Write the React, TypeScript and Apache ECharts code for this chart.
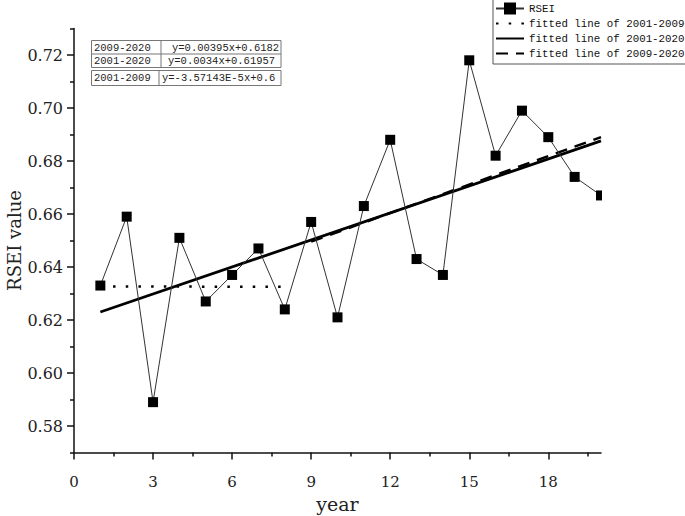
import React, { useEffect, useRef } from "react";
import * as echarts from "echarts";

const years = [1, 2, 3, 4, 5, 6, 7, 8, 9, 10, 11, 12, 13, 14, 15, 16, 17, 18, 19, 20];
const rseiValues = [0.633, 0.659, 0.589, 0.651, 0.627, 0.637, 0.647, 0.624, 0.657, 0.621, 0.663, 0.688, 0.643, 0.637, 0.718, 0.682, 0.699, 0.689, 0.674, 0.667];

const fit2001to2009 = [[1, 0.6327], [8, 0.6325]];
const fit2001to2020 = [[1, 0.623], [20, 0.6876]];
const fit2009to2020 = [[9, 0.6496], [20, 0.689]];

const xMajorTicks = [0, 3, 6, 9, 12, 15, 18];
const xMinorTicks = [1.5, 4.5, 7.5, 10.5, 13.5, 16.5, 19.5];
const yMajorTicks = [0.58, 0.6, 0.62, 0.64, 0.66, 0.68, 0.7, 0.72];
const yMinorTicks = [0.57, 0.59, 0.61, 0.63, 0.65, 0.67, 0.69, 0.71, 0.73];

const tableRows = [
  ["2009-2020", "y=0.00395x+0.6182"],
  ["2001-2020", "y=0.0034x+0.61957"],
  ["2001-2009", "y=-3.57143E-5x+0.6"],
];

const seriesNames = ["RSEI", "fitted line of 2001-2009", "fitted line of 2001-2020", "fitted line of 2009-2020"];

export default function App() {
  const ref = useRef<HTMLDivElement>(null);
  useEffect(() => {
    if (!ref.current) return;
    const chart = echarts.init(ref.current, null, { renderer: "svg" });
    const serif = "DejaVu Serif";
    const mono = "Liberation Mono";
    const axisColor = "#111";
    const tableFont = { fontFamily: mono, fontSize: 10.5, fill: "#222" };
    const rowY = [47.5, 61, 78];
    const rightX = [172, 168, 162];
    const hiddenSymbol = { opacity: 0 };
    const option: any = {
      animation: false,
      backgroundColor: "#fff",
      grid: { left: 74, right: 84, top: 28.5, bottom: 63.5, outerBoundsMode: "none", containLabel: false },
      legend: {
        orient: "vertical",
        left: 493,
        top: -2,
        padding: [3, 2, 3, 2],
        itemGap: 0,
        itemWidth: 28,
        itemHeight: 15,
        borderColor: "#555",
        borderWidth: 1,
        borderRadius: 0,
        data: [
          { name: seriesNames[0] },
          { name: seriesNames[1], itemStyle: hiddenSymbol },
          { name: seriesNames[2], itemStyle: hiddenSymbol },
          { name: seriesNames[3], itemStyle: hiddenSymbol },
        ],
        textStyle: { fontFamily: mono, fontSize: 10.8, color: "#111", lineHeight: 15 },
      },
      xAxis: [
        {
          type: "value",
          min: 0,
          max: 20,
          position: "bottom",
          name: "year",
          nameLocation: "middle",
          nameGap: 42,
          nameMoveOverlap: false,
          nameTextStyle: { fontFamily: serif, fontSize: 19, color: "#222" },
          axisLine: { show: true, onZero: false, lineStyle: { color: axisColor, width: 1.5 } },
          axisTick: { show: true, inside: false, length: 7, customValues: xMajorTicks, lineStyle: { color: axisColor, width: 1.5 } },
          axisLabel: { customValues: xMajorTicks, margin: 22, fontFamily: serif, fontSize: 15, color: "#222" },
          splitLine: { show: false },
        },
        {
          type: "value",
          min: 0,
          max: 20,
          position: "bottom",
          axisLine: { show: false, onZero: false },
          axisTick: { show: true, inside: false, length: 4, customValues: xMinorTicks, lineStyle: { color: axisColor, width: 1.5 } },
          axisLabel: { show: false },
          splitLine: { show: false },
        },
      ],
      yAxis: [
        {
          type: "value",
          min: 0.57,
          max: 0.73,
          position: "left",
          name: "RSEI value",
          nameLocation: "middle",
          nameGap: 51,
          nameMoveOverlap: false,
          nameRotate: 90,
          nameTextStyle: { fontFamily: serif, fontSize: 18, color: "#222" },
          axisLine: { show: true, onZero: false, lineStyle: { color: axisColor, width: 1.5 } },
          axisTick: { show: true, inside: false, length: 7, customValues: yMajorTicks, lineStyle: { color: axisColor, width: 1.5 } },
          axisLabel: {
            customValues: yMajorTicks,
            margin: 11,
            fontFamily: serif,
            fontSize: 16,
            color: "#222",
            formatter: (v: number) => v.toFixed(2),
          },
          splitLine: { show: false },
        },
        {
          type: "value",
          min: 0.57,
          max: 0.73,
          position: "left",
          axisLine: { show: false, onZero: false },
          axisTick: { show: true, inside: false, length: 4, customValues: yMinorTicks, lineStyle: { color: axisColor, width: 1.5 } },
          axisLabel: { show: false },
          splitLine: { show: false },
        },
      ],
      series: [
        {
          name: seriesNames[0],
          type: "line",
          data: years.map((y, i) => [y, rseiValues[i]]),
          symbol: "rect",
          symbolSize: 10,
          itemStyle: { color: "#000" },
          lineStyle: { color: "#333", width: 1 },
          z: 5,
        },
        {
          name: seriesNames[1],
          type: "line",
          data: fit2001to2009,
          symbol: "none",
          lineStyle: { color: "#000", width: 2.5, type: [2.5, 10.2] },
          itemStyle: { color: "#000" },
          z: 3,
        },
        {
          name: seriesNames[2],
          type: "line",
          data: fit2001to2020,
          symbol: "none",
          lineStyle: { color: "#000", width: 2.8 },
          itemStyle: { color: "#000" },
          z: 3,
        },
        {
          name: seriesNames[3],
          type: "line",
          data: fit2009to2020,
          symbol: "none",
          lineStyle: { color: "#000", width: 2.5, type: [12, 8] },
          itemStyle: { color: "#000" },
          z: 3,
        },
      ],
      graphic: [
        {
          type: "rect",
          shape: { x: 602, y: 100, width: 83, height: 300 },
          style: { fill: "#fff" },
          z: 100,
          silent: true,
        },
        {
          type: "group",
          z: 50,
          children: [
            { type: "rect", shape: { x: 91.5, y: 40.5, width: 189.5, height: 27 }, style: { fill: "#fff", stroke: "#777", lineWidth: 1 } },
            { type: "line", shape: { x1: 91.5, y1: 54, x2: 281, y2: 54 }, style: { stroke: "#777", lineWidth: 1 } },
            { type: "line", shape: { x1: 161, y1: 40.5, x2: 161, y2: 67.5 }, style: { stroke: "#777", lineWidth: 1 } },
            { type: "rect", shape: { x: 91.5, y: 70.5, width: 189.5, height: 15 }, style: { fill: "#fff", stroke: "#777", lineWidth: 1 } },
            { type: "line", shape: { x1: 159, y1: 70.5, x2: 159, y2: 85.5 }, style: { stroke: "#777", lineWidth: 1 } },
            ...tableRows.flatMap((row, i) => [
              { type: "text", style: { text: row[0], x: 94, y: rowY[i], verticalAlign: "middle", align: "left", ...tableFont } },
              { type: "text", style: { text: row[1], x: rightX[i], y: rowY[i], verticalAlign: "middle", align: "left", ...tableFont } },
            ]),
          ],
        },
      ],
    };
    chart.setOption(option);
    return () => chart.dispose();
  }, []);
  return <div ref={ref} style={{ position: "fixed", left: 0, top: 0, width: 685, height: 516, background: "#fff" }} />;
}
